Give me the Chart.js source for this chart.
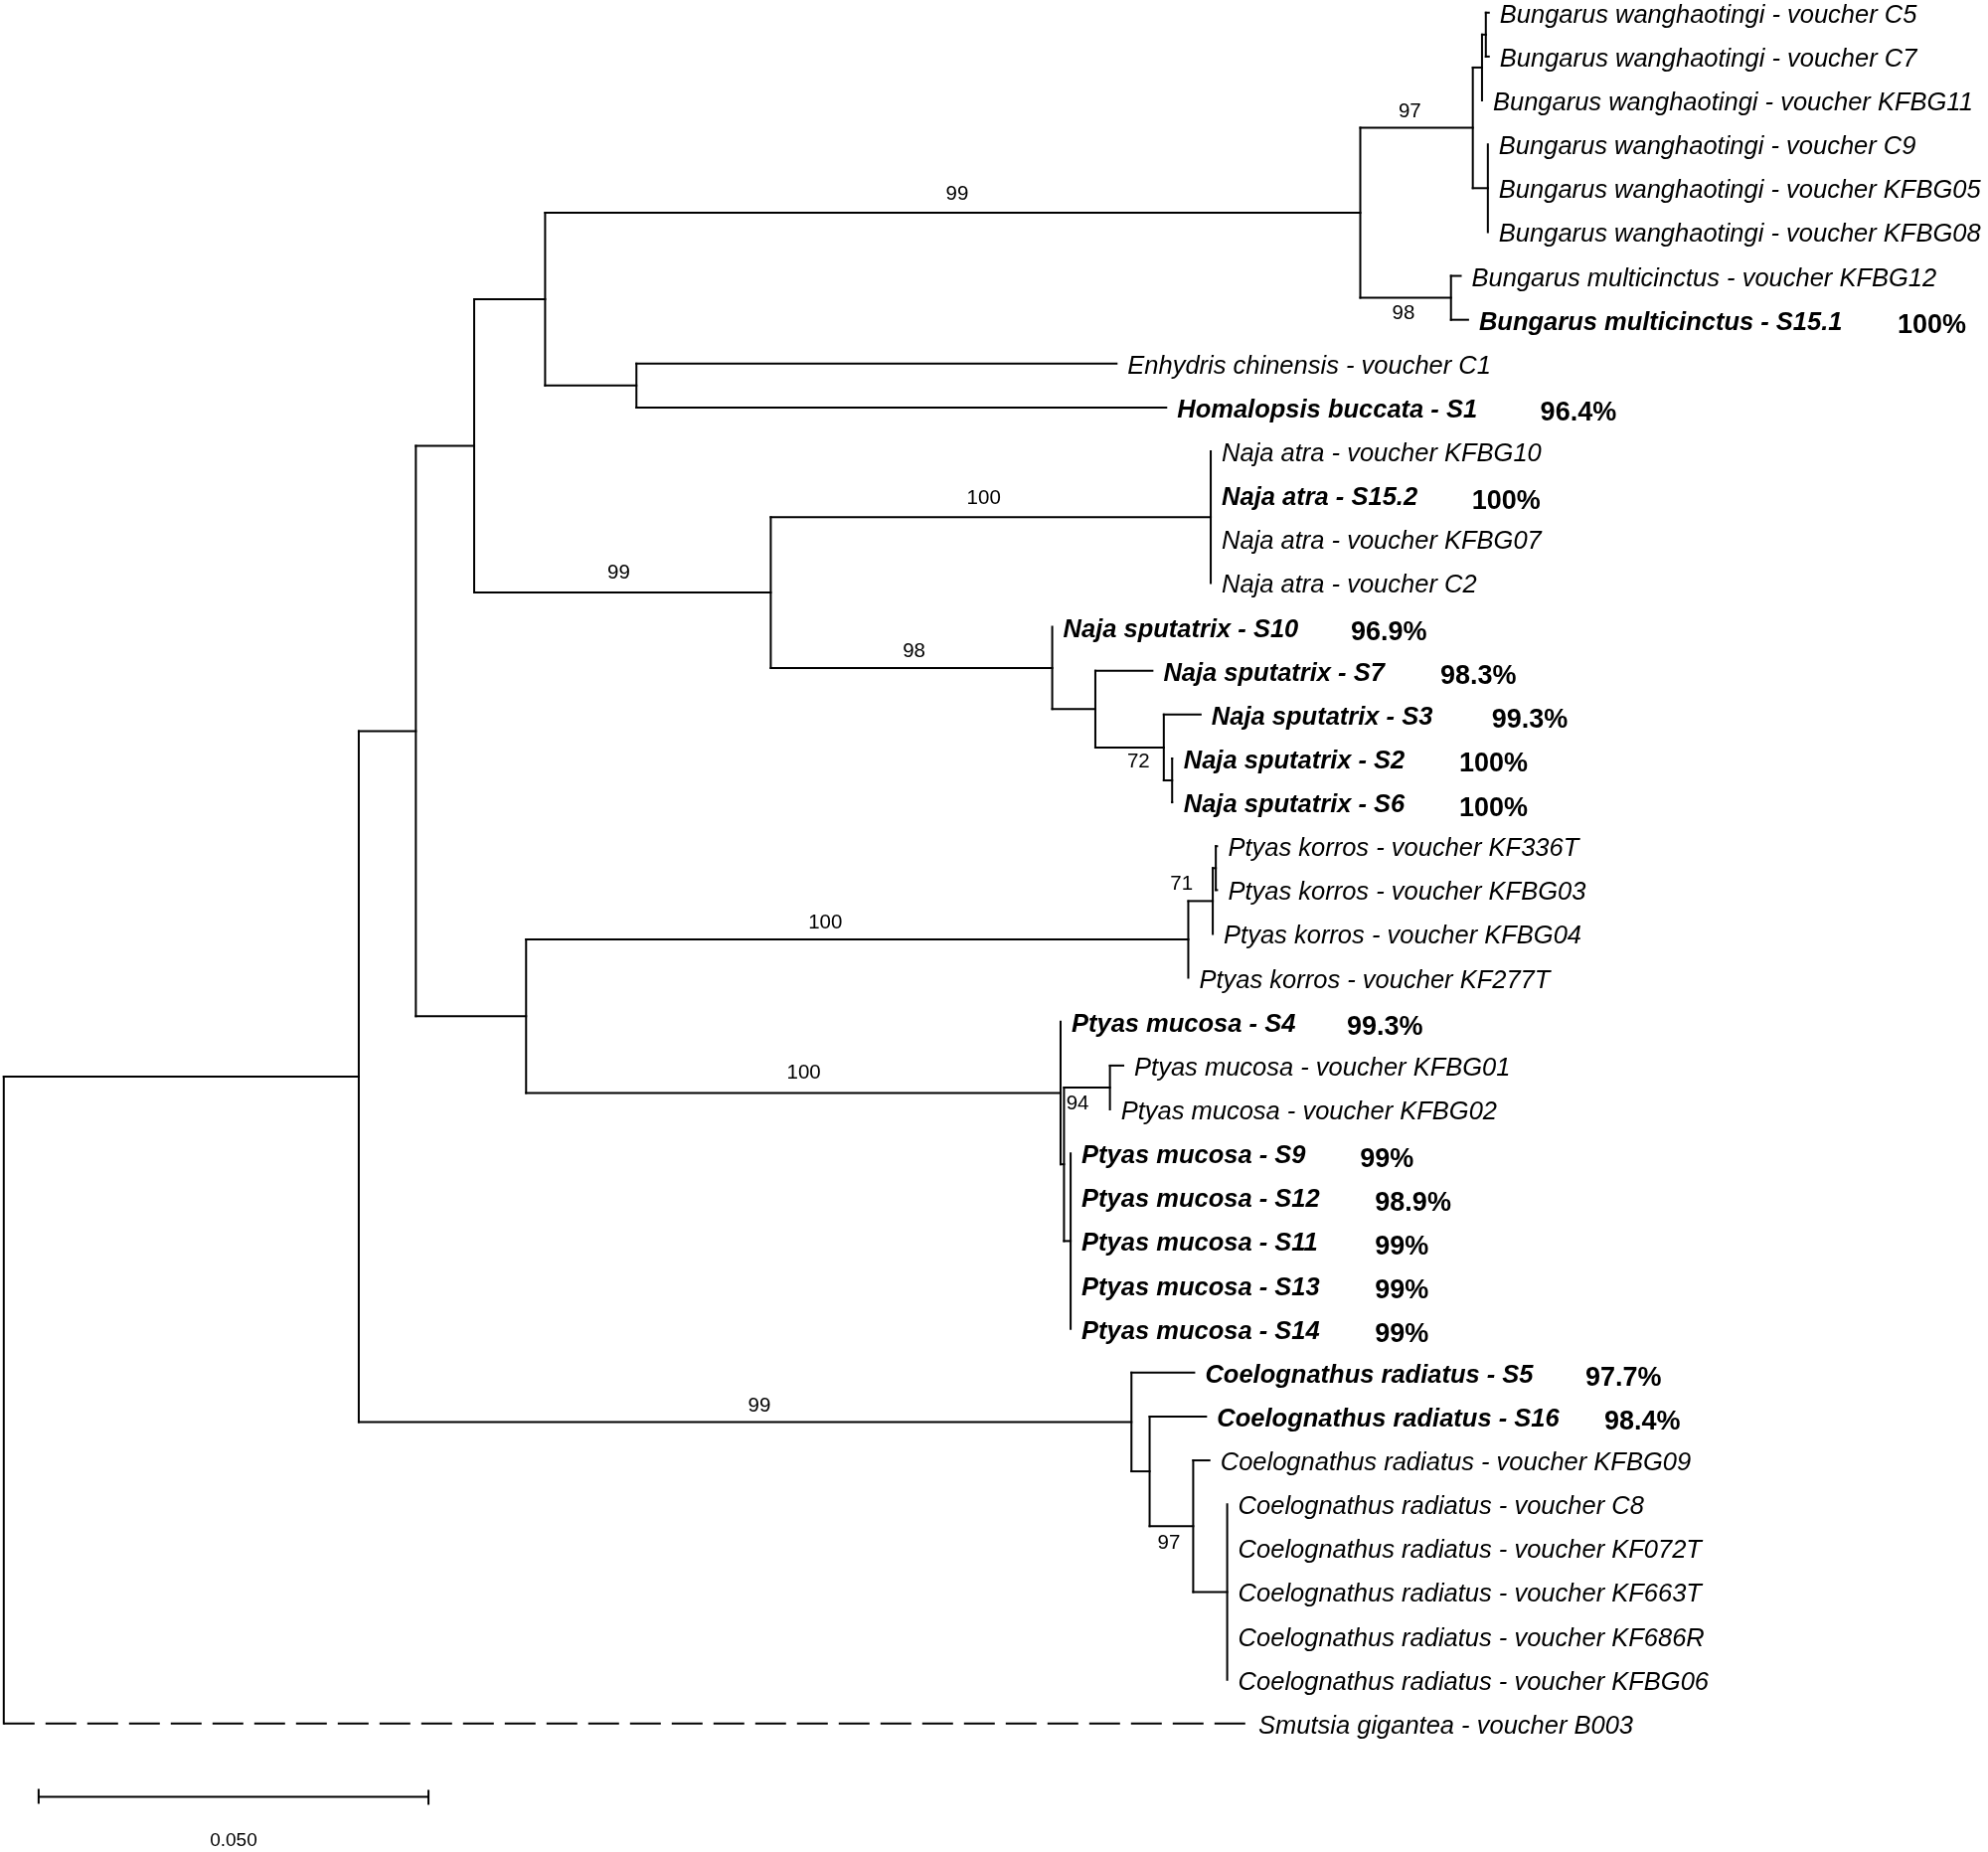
<!DOCTYPE html>
<html>
<head>
<meta charset="utf-8">
<script src="https://cdn.jsdelivr.net/npm/chart.js@4.4.0/dist/chart.umd.min.js"></script>
<style>
  html, body { margin: 0; padding: 0; background: #fff; }
  #wrap { width: 2000px; height: 1863px; position: relative; }
</style>
</head>
<body>
<div id="wrap"><canvas id="tree"></canvas></div>
<script>
// leaves, top to bottom (row index = position in this list)
const taxa = [
  'Bungarus wanghaotingi - voucher C5',
  'Bungarus wanghaotingi - voucher C7',
  'Bungarus wanghaotingi - voucher KFBG11',
  'Bungarus wanghaotingi - voucher C9',
  'Bungarus wanghaotingi - voucher KFBG05',
  'Bungarus wanghaotingi - voucher KFBG08',
  'Bungarus multicinctus - voucher KFBG12',
  'Bungarus multicinctus - S15.1',
  'Enhydris chinensis - voucher C1',
  'Homalopsis buccata - S1',
  'Naja atra - voucher KFBG10',
  'Naja atra - S15.2',
  'Naja atra - voucher KFBG07',
  'Naja atra - voucher C2',
  'Naja sputatrix - S10',
  'Naja sputatrix - S7',
  'Naja sputatrix - S3',
  'Naja sputatrix - S2',
  'Naja sputatrix - S6',
  'Ptyas korros - voucher KF336T',
  'Ptyas korros - voucher KFBG03',
  'Ptyas korros - voucher KFBG04',
  'Ptyas korros - voucher KF277T',
  'Ptyas mucosa - S4',
  'Ptyas mucosa - voucher KFBG01',
  'Ptyas mucosa - voucher KFBG02',
  'Ptyas mucosa - S9',
  'Ptyas mucosa - S12',
  'Ptyas mucosa - S11',
  'Ptyas mucosa - S13',
  'Ptyas mucosa - S14',
  'Coelognathus radiatus - S5',
  'Coelognathus radiatus - S16',
  'Coelognathus radiatus - voucher KFBG09',
  'Coelognathus radiatus - voucher C8',
  'Coelognathus radiatus - voucher KF072T',
  'Coelognathus radiatus - voucher KF663T',
  'Coelognathus radiatus - voucher KF686R',
  'Coelognathus radiatus - voucher KFBG06',
  'Smutsia gigantea - voucher B003'
];

// our samples (printed bold)
const ourSamples = [7, 9, 11, 14, 15, 16, 17, 18, 23, 26, 27, 28, 29, 30, 31, 32];

// distance of each tip from the root (substitutions / site)
const tipDist = [
  0.19046, 0.19046, 0.18959, 0.19034, 0.19034, 0.19034, 0.18686, 0.18780, 0.14272, 0.14909,
  0.15480, 0.15480, 0.15480, 0.15480, 0.13447, 0.14732, 0.15350, 0.14992, 0.14992,
  0.15561, 0.15561, 0.15506, 0.15192, 0.13554, 0.14358, 0.14187, 0.13683, 0.13683, 0.13683, 0.13683, 0.13683,
  0.15268, 0.15420, 0.15463, 0.15691, 0.15691, 0.15691, 0.15691, 0.15691, 0.15951
];

// internal nodes: id, distance from root, children (numbers = leaf rows)
const nodeIds = ['root', 'ingroup', 'n2', 'n3', 'n4', 'bung', 'bwang', 'bwA', 'bwAA', 'bwB', 'bmul', 'homal',
  'naja', 'atra', 'sput', 'sX', 'sY', 'sZ',
  'ptyas', 'kor', 'korA', 'korB', 'muc', 'mucA', 'mucKF', 'mucB',
  'coel', 'cA', 'cB', 'cC'];
const nodeDist = [0, 0.04553, 0.05285, 0.06033, 0.06943, 0.17398, 0.18841, 0.18959, 0.19008, 0.19034, 0.18561, 0.08114,
  0.09837, 0.15480, 0.13447, 0.14000, 0.14878, 0.14985,
  0.06699, 0.15192, 0.15506, 0.15545, 0.13554, 0.13598, 0.14187, 0.13683,
  0.14463, 0.14696, 0.15255, 0.15691];
const nodeKids = [
  ['ingroup', 39], ['n2', 'coel'], ['n3', 'ptyas'], ['n4', 'naja'], ['bung', 'homal'],
  ['bwang', 'bmul'], ['bwA', 'bwB'], ['bwAA', 2], [0, 1], [3, 4, 5], [6, 7], [8, 9],
  ['atra', 'sput'], [10, 11, 12, 13], [14, 'sX'], [15, 'sY'], [16, 'sZ'], [17, 18],
  ['kor', 'muc'], ['korA', 22], ['korB', 21], [19, 20], [23, 'mucA'], ['mucKF', 'mucB'], [24, 25], [26, 27, 28, 29, 30],
  [31, 'cA'], [32, 'cB'], [33, 'cC'], [34, 35, 36, 37, 38]
];
const outgroupRows = [39]; // drawn dashed

// bootstrap support and where it is printed (distance, row)
const bootVals = ['99', '97', '98', '99', '100', '98', '72', '100', '71', '100', '94', '99', '97'];
const bootAt = [[0.12228, 4.13], [0.18033, 2.25], [0.17951, 6.85], [0.07886, 12.77], [0.12569, 11.07],
  [0.11675, 14.57], [0.14553, 17.08], [0.10537, 20.75], [0.15106, 19.86], [0.10260, 24.16],
  [0.13772, 24.88], [0.09691, 31.76], [0.14943, 34.88]];

// identity to reference sequence
const idRows = [7, 9, 11, 14, 15, 16, 17, 18, 23, 26, 27, 28, 29, 30, 31, 32];
const idValues = ['100%', '96.4%', '100%', '96.9%', '98.3%', '99.3%', '100%', '100%', '99.3%', '99%', '98.9%', '99%', '99%', '99%', '97.7%', '98.4%'];
const idAt = [0.24288, 0.19707, 0.18829, 0.17276, 0.18423, 0.19083, 0.18667, 0.18667, 0.17226, 0.17395,
  0.17587, 0.17587, 0.17587, 0.17587, 0.20285, 0.20527];

// scale bar
const scaleLen = 0.05;
const scaleLabel = '0.050';
const scaleStart = 0.00447;
const scaleRow = 40.67;

const FONT = '"Liberation Sans", Arial, sans-serif';

function xOf(ref) {
  return typeof ref === 'number' ? tipDist[ref] : nodeDist[nodeIds.indexOf(ref)];
}
function yOf(ref) {
  if (typeof ref === 'number') return ref;
  const kids = nodeKids[nodeIds.indexOf(ref)];
  return (yOf(kids[0]) + yOf(kids[kids.length - 1])) / 2;
}

function seg(points, dashed) {
  return {
    data: points,
    showLine: true,
    borderColor: '#000',
    borderWidth: 2,
    borderCapStyle: dashed ? 'butt' : 'square',
    borderDash: dashed ? [31, 11] : [],
    pointRadius: 0,
    pointHoverRadius: 0,
    fill: false
  };
}

const datasets = [];
nodeIds.forEach((id, k) => {
  const x = nodeDist[k];
  const kids = nodeKids[k];
  const yTop = yOf(kids[0]);
  const yBot = yOf(kids[kids.length - 1]);
  datasets.push(seg([{ x: x, y: yTop }, { x: x, y: yBot }], false));
  kids.forEach(c => {
    const cx = xOf(c);
    if (cx - x < 1e-5) return;
    const cy = yOf(c);
    const dashed = typeof c === 'number' && outgroupRows.includes(c);
    datasets.push(seg([{ x: x, y: cy }, { x: cx, y: cy }], dashed));
  });
});
// scale bar with end ticks
const sb0 = scaleStart, sb1 = scaleStart + scaleLen;
datasets.push(seg([
  { x: sb0, y: scaleRow - 0.16 }, { x: sb0, y: scaleRow + 0.16 }, { x: sb0, y: scaleRow },
  { x: sb1, y: scaleRow }, { x: sb1, y: scaleRow - 0.16 }, { x: sb1, y: scaleRow + 0.16 }
], false));

const labelPlugin = {
  id: 'treeLabels',
  afterDatasetsDraw(chart) {
    const ctx = chart.ctx;
    const xs = chart.scales.x, ys = chart.scales.y;
    ctx.save();
    ctx.fillStyle = '#000';

    // tip labels
    ctx.textAlign = 'left';
    ctx.textBaseline = 'alphabetic';
    taxa.forEach((name, i) => {
      const isOurs = ourSamples.includes(i);
      ctx.font = (isOurs ? 'italic bold ' : 'italic ') + '25.5px ' + FONT;
      ctx.fillText(name, xs.getPixelForValue(tipDist[i]) + 11, ys.getPixelForValue(i) + 10);
    });

    // identity percentages
    ctx.font = 'bold 27px ' + FONT;
    idRows.forEach((r, k) => {
      ctx.fillText(idValues[k], xs.getPixelForValue(idAt[k]), ys.getPixelForValue(r) + 13.5);
    });

    // bootstrap values
    ctx.font = '20.5px ' + FONT;
    ctx.textAlign = 'center';
    ctx.textBaseline = 'middle';
    bootVals.forEach((v, k) => {
      ctx.fillText(v, xs.getPixelForValue(bootAt[k][0]), ys.getPixelForValue(bootAt[k][1]));
    });

    // scale bar label
    ctx.font = '19px ' + FONT;
    ctx.fillText(scaleLabel, xs.getPixelForValue(scaleStart + scaleLen / 2), ys.getPixelForValue(scaleRow + 1.0));
    ctx.restore();
  }
};

new Chart(document.getElementById('tree'), {
  type: 'scatter',
  data: { datasets: datasets },
  options: {
    responsive: true,
    maintainAspectRatio: false,
    animation: false,
    layout: { padding: 0 },
    plugins: { legend: { display: false }, tooltip: { enabled: false } },
    scales: {
      x: { type: 'linear', display: false, min: -0.000484, max: 0.254487 },
      y: { type: 'linear', display: false, reverse: true, min: -0.28915, max: 41.927 }
    }
  },
  plugins: [labelPlugin]
});
</script>
</body>
</html>
